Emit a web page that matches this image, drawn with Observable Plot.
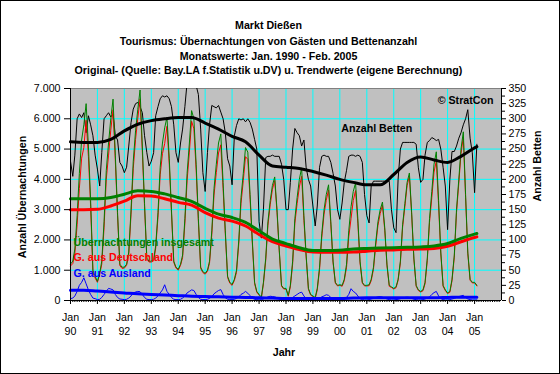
<!DOCTYPE html>
<html><head><meta charset="utf-8">
<script src="https://cdn.jsdelivr.net/npm/d3@7"></script>
<script src="https://cdn.jsdelivr.net/npm/@observablehq/plot@0.6"></script>
<style>
body{margin:0;background:#fff;}
#chart{position:absolute;left:0;top:0;width:560px;height:374px;overflow:hidden;font-family:"Liberation Sans",Arial,sans-serif;font-size:10.67px;color:#000;background:#fff;}
#chart svg{position:absolute;left:0;top:0;}
.t{position:absolute;left:0;width:537px;text-align:center;font-weight:bold;line-height:12px;white-space:nowrap;}
.r{position:absolute;font-weight:bold;line-height:12px;white-space:nowrap;transform:translate(-50%,-50%) rotate(-90deg);}
#border{position:absolute;left:0;top:0;width:560px;height:374px;box-sizing:border-box;border:1px solid #000;pointer-events:none;}
</style></head>
<body>
<div id="chart">
<div class="t" style="top:19px">Markt Dießen</div>
<div class="t" style="top:35px">Tourismus: Übernachtungen von Gästen und Bettenanzahl</div>
<div class="t" style="top:49.6px">Monatswerte: Jan. 1990 - Feb. 2005</div>
<div class="t" style="top:64.3px">Original- (Quelle: Bay.LA f.Statistik u.DV) u. Trendwerte (eigene Berechnung)</div>
<div class="r" style="left:21.7px;top:196.7px">Anzahl Übernachtungen</div>
<div class="r" style="left:536.7px;top:166px">Anzahl Betten</div>
<div class="t" style="top:345.6px;left:256px;width:56px">Jahr</div>
<div id="border"></div>
</div>
<script>
// Monthly values Jan 1990 .. Feb 2005
const total = [
 1200,1300,1700,2800,4200,5300,5800,6500,5100,3300,1000,800,
 630,900,1300,2600,4300,5200,6000,6650,4800,2900,1200,1100,
 1100,1200,1600,3000,4600,5600,6300,6950,5100,3200,1400,1300,
 1300,1350,1800,2900,4400,5200,5700,6050,4700,3000,1300,1100,
 1030,1200,1500,2700,4200,5200,6270,6000,4500,2700,1100,950,
 900,1000,1300,2300,3700,4500,5200,5500,3900,2300,800,600,
 530,700,1000,2000,3400,4200,5050,4900,3500,2000,600,300,
 200,110,600,1400,2600,3300,3800,4080,3000,1700,500,400,
 400,170,500,1300,2700,3400,4000,4380,2800,1500,400,200,
 150,100,400,1100,2200,3000,3500,3820,2600,1300,600,500,
 520,500,700,1200,2300,3100,3600,3880,2700,1300,600,500,
 500,520,700,1100,1900,2600,3000,3250,2400,1200,500,450,
 400,450,700,1300,2500,3200,3900,4210,2900,1400,500,350,
 300,350,600,1400,2700,3600,4500,4910,3300,1600,500,350,
 250,300,700,1500,3000,4000,5000,5570,3500,1600,700,600,
 600,500
];
const germany = [
 1140,1220,1550,2500,3700,4700,5050,5950,4750,3100,920,740,
 600,860,1200,2400,4000,4800,5620,6300,4600,2800,1150,1060,
 1070,1160,1520,2850,4350,5320,6000,6660,4900,3100,1360,1270,
 1270,1310,1720,2750,4150,4850,5180,5750,4500,2900,1260,1070,
 1000,1160,1420,2550,3950,4900,5920,5670,4300,2600,1060,920,
 870,960,1230,2170,3480,4220,4870,5140,3700,2210,760,570,
 500,660,930,1880,3200,3960,4750,4660,3340,1920,560,270,
 180,80,550,1320,2480,3160,3670,3960,2910,1650,470,380,
 380,140,450,1200,2550,3200,3750,4100,2650,1440,370,180,
 130,70,350,1020,2080,2850,3310,3650,2500,1250,570,480,
 500,470,650,1100,2100,2710,3300,3630,2550,1240,570,480,
 480,490,650,1030,1800,2480,2870,3140,2320,1150,470,430,
 380,420,660,1240,2420,3100,3790,4110,2830,1360,470,330,
 280,320,550,1320,2580,3400,4240,4610,3150,1540,470,330,
 230,270,650,1430,2900,3870,4850,5400,3400,1550,670,580,
 580,480
];
const abroad = [
 60,80,150,300,500,600,750,550,350,200,80,60,
 30,40,100,200,300,400,380,350,200,100,50,40,
 30,40,80,150,250,280,300,290,200,100,40,30,
 30,40,80,150,250,350,520,300,200,100,40,30,
 30,40,80,150,250,300,350,330,200,100,40,30,
 30,40,70,130,220,280,330,360,200,90,40,30,
 30,40,70,120,200,240,300,240,160,80,40,30,
 20,30,50,80,120,140,130,120,90,50,30,20,
 20,30,50,100,150,200,250,275,150,60,30,20,
 20,30,50,80,120,150,190,170,100,50,30,20,
 20,30,50,100,200,390,300,250,150,60,30,20,
 20,30,50,70,100,120,130,110,80,50,30,20,
 20,30,40,60,80,100,110,100,70,40,30,20,
 20,30,50,80,120,200,260,300,150,60,30,20,
 20,30,50,70,100,130,150,170,100,50,30,20,
 20,20
];
const beds = [
 230,205,240,300,308,302,310,277,305,290,272,240,
 217,189,244,300,305,310,303,308,272,265,228,222,
 211,220,255,294,316,325,327,320,310,272,244,222,
 230,244,305,320,333,338,336,338,333,320,290,244,
 228,260,283,320,360,370,360,365,355,340,283,211,
 180,244,290,322,320,318,322,311,300,277,234,222,
 191,272,289,300,298,300,295,300,294,283,266,250,
 130,103,150,236,238,238,240,238,238,238,225,200,
 150,150,195,250,284,277,272,255,265,220,200,189,
 156,123,156,220,238,240,238,238,228,210,189,150,
 134,161,195,215,238,240,240,238,240,238,228,175,
 140,128,189,197,197,197,197,197,197,197,197,150,
 120,112,200,250,261,261,261,261,261,261,258,219,
 195,200,240,261,264,269,267,264,266,250,220,189,
 117,200,246,246,255,268,277,290,300,315,268,244,
 178,258
];
// Trend values (month index from Jan 1990)
const trendMonths = [0,6,12,18,24,30,36,42,48,54,60,66,72,78,84,90,96,102,108,114,120,126,132,138,144,150,156,162,168,174,180,181];
const trendTotal = [3360,3360,3360,3400,3510,3620,3600,3520,3400,3270,3040,2850,2740,2580,2300,2030,1880,1740,1650,1650,1660,1700,1720,1735,1745,1755,1770,1800,1880,2050,2190,2210];
const trendGermany = [3000,3000,3010,3120,3280,3460,3450,3360,3240,3150,2900,2720,2620,2460,2180,1940,1800,1680,1600,1590,1590,1600,1630,1660,1670,1690,1700,1720,1790,1940,2080,2100];
const trendAbroad = [340,340,310,280,250,220,200,180,160,140,130,120,110,100,90,80,70,70,70,70,70,80,90,90,90,90,90,90,100,110,110,110];
const trendBeds = [262,261,261,266,280,291,297,300,302,302,293,283,271,262,240,222,220,218,213,207,200,195,191,191,208,228,237,232,228,238,252,254];
// Axis ticks
const tickYears = [1990,1991,1992,1993,1994,1995,1996,1997,1998,1999,2000,2001,2002,2003,2004,2005];
const leftTicks = [0,1000,2000,3000,4000,5000,6000,7000];
const gridValues = [1000,2000,3000,4000,5000,6000];
const rightTicks = [0,25,50,75,100,125,150,175,200,225,250,275,300,325,350];
const bedScale = 20; // 350 beds ↔ 7000 nights

const start = new Date(Date.UTC(1990,0,1));
const endDate = new Date(Date.UTC(2006,0,1));
const month = i => d3.utcMonth.offset(start, i);
const rows = total.map((v,i)=>({date: month(i), total: v, de: germany[i], ab: abroad[i], beds: beds[i]}));
const trows = trendMonths.map((m,i)=>({date: month(m), total: trendTotal[i], de: trendGermany[i], ab: trendAbroad[i], beds: trendBeds[i]}));
const yearDates = tickYears.map(y => new Date(Date.UTC(y,0,1)));
const monthDates = d3.utcMonth.range(start, endDate);
const de = d3.formatLocale({decimal: ",", thousands: ".", grouping: [3], currency: ["", " €"]}).format(",");
const fs = 10.67;

const chart = Plot.plot({
  width: 560, height: 374,
  marginLeft: 70, marginRight: 59, marginTop: 88, marginBottom: 74,
  x: {type: "utc", domain: [start, endDate], label: null},
  y: {domain: [0, 7000], label: null},
  style: {fontFamily: '"Liberation Sans", Arial, sans-serif', fontSize: fs + "px", color: "#000", background: "transparent", overflow: "visible"},
  marks: [
    Plot.frame({fill: "#c0c0c0", stroke: "none"}),
    Plot.gridX({ticks: yearDates, stroke: "#00ffff", strokeOpacity: 1, strokeWidth: 1}),
    Plot.gridY({ticks: gridValues, stroke: "#00ffff", strokeOpacity: 1, strokeWidth: 1}),
    Plot.ruleY([7000], {stroke: "#808080"}),
    Plot.line(rows, {x: "date", y: d => d.beds * bedScale, stroke: "#000", strokeWidth: 1, clip: true}),
    Plot.line(rows, {x: "date", y: "de", stroke: "#ff0000", strokeWidth: 1}),
    Plot.line(rows, {x: "date", y: "total", stroke: "#008000", strokeWidth: 1}),
    Plot.line(rows, {x: "date", y: "ab", stroke: "#0000ff", strokeWidth: 1}),
    Plot.line(trows, {x: "date", y: d => d.beds * bedScale, stroke: "#000", strokeWidth: 3, curve: "monotone-x"}),
    Plot.line(trows, {x: "date", y: "de", stroke: "#ff0000", strokeWidth: 3, curve: "monotone-x"}),
    Plot.line(trows, {x: "date", y: "total", stroke: "#008000", strokeWidth: 3, curve: "monotone-x"}),
    Plot.line(trows, {x: "date", y: "ab", stroke: "#0000ff", strokeWidth: 3, curve: "monotone-x"}),
    Plot.ruleX([start], {stroke: "#000"}),
    Plot.ruleX([endDate], {stroke: "#000"}),
    Plot.ruleY([0], {stroke: "#000"}),
    Plot.axisY({anchor: "left", ticks: leftTicks, tickSize: 6, tickPadding: 4, tickFormat: de, fontSize: fs}),
    Plot.axisY({anchor: "right", ticks: rightTicks.map(v => v * bedScale), tickSize: 4, tickPadding: 3, tickFormat: d => String(d / bedScale), fontSize: fs}),
    Plot.axisY({anchor: "right", ticks: rightTicks.slice(0, -1).map(v => (v + 12.5) * bedScale), tickSize: 3, tickFormat: () => ""}),
    Plot.axisX({ticks: monthDates, tickSize: 2, tickFormat: () => ""}),
    Plot.axisX({ticks: yearDates, tickSize: 4, tickPadding: 9, tickFormat: () => "Jan", fontSize: fs}),
    Plot.axisX({ticks: yearDates, tickSize: 0, tickPadding: 27, tickFormat: d3.utcFormat("%y"), fontSize: fs}),
    Plot.text(["Übernachtungen insgesamt"], {text: d => d, frameAnchor: "top-left", dx: 3, dy: 149.5, textAnchor: "start", fill: "#008000", fontWeight: "bold", fontSize: fs}),
    Plot.text(["G. aus Deutschland"], {text: d => d, frameAnchor: "top-left", dx: 3, dy: 165.3, textAnchor: "start", fill: "#ff0000", fontWeight: "bold", fontSize: fs}),
    Plot.text(["G. aus Ausland"], {text: d => d, frameAnchor: "top-left", dx: 3, dy: 181.3, textAnchor: "start", fill: "#0000ff", fontWeight: "bold", fontSize: fs}),
    Plot.text(["Anzahl Betten"], {text: d => d, frameAnchor: "top-left", dx: 270.7, dy: 36.3, textAnchor: "start", fill: "#000", fontWeight: "bold", fontSize: fs}),
    Plot.text(["© StratCon"], {text: d => d, frameAnchor: "top-right", dx: -8, dy: 8, textAnchor: "end", fill: "#000", fontWeight: "bold", fontSize: fs})
  ]
});
document.getElementById("chart").insertBefore(chart, document.getElementById("chart").firstChild);
</script>
</body></html>
